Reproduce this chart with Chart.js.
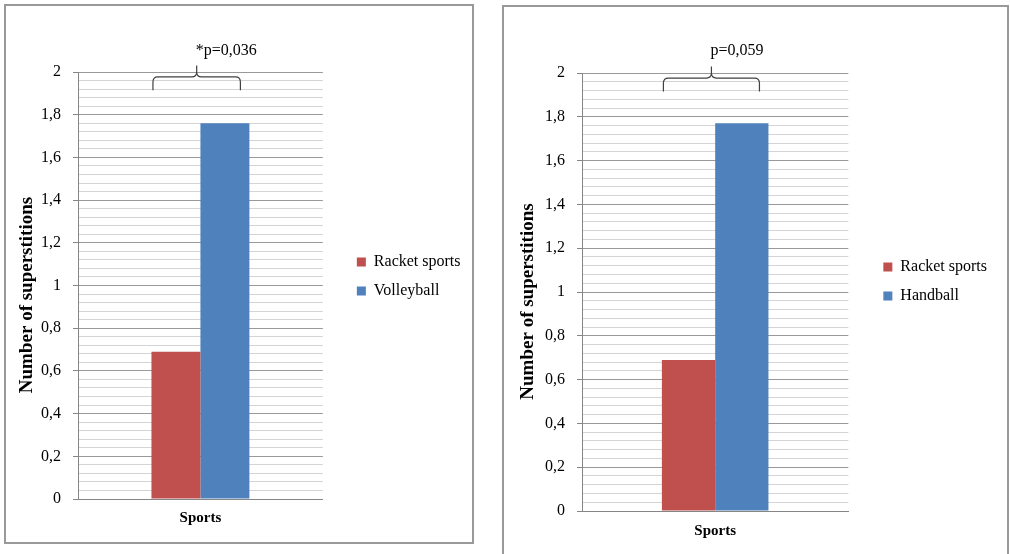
<!DOCTYPE html>
<html>
<head>
<meta charset="utf-8">
<script src="https://cdn.jsdelivr.net/npm/chart.js@4.4.1/dist/chart.umd.min.js"></script>
<style>
  body { margin: 0; background: #fff; }
  .box { position: absolute; border: 2px solid #999; background: #fff; }
  #boxLeft { left: 4px; top: 4px; width: 466px; height: 536px; }
  #boxRight { left: 502px; top: 5px; width: 503px; height: 560px; }
  canvas { display: block; }
</style>
</head>
<body>
<div class="box" id="boxLeft"><canvas id="chartLeft" width="466" height="536"></canvas></div>
<div class="box" id="boxRight"><canvas id="chartRight" width="503" height="547"></canvas></div>
<script>
// values
const categories = ['Sports'];
const leftSeries = ['Racket sports', 'Volleyball'];
const leftRacket = [0.69];
const leftVolleyball = [1.76];
const rightSeries = ['Racket sports', 'Handball'];
const rightRacket = [0.69];
const rightHandball = [1.77];
const yTickLabels = ['0', '0,2', '0,4', '0,6', '0,8', '1', '1,2', '1,4', '1,6', '1,8', '2'];
const pLabels = ['*p=0,036', 'p=0,059'];
// trailing spaces push the rotated title a little below the axis centre, as in Excel
const yTitle = 'Number of superstitions    ';

// brace levels in axis units
const braceLevel = 1.977;
const braceFoot = 1.915;
const braceTip = 2.03;
const pTextLevel = 2.1;

const SERIF = '"Liberation Serif", "Times New Roman", serif';
const RED = '#C0504D';
const BLUE = '#4F81BD';

// curly brace over the two bars + p-value text
const braceAnnotation = {
  id: 'brace',
  afterDatasetsDraw(chart, args, opts) {
    const y = chart.scales.y;
    const a = chart.getDatasetMeta(0).data[0];
    const b = chart.getDatasetMeta(1).data[0];
    const left = a.x - a.width / 2 + 1.5;
    const right = b.x + b.width / 2 - 9;
    const mid = (left + right) / 2;
    const yl = y.getPixelForValue(braceLevel);
    const yf = y.getPixelForValue(braceFoot);
    const yt = y.getPixelForValue(braceTip);
    const r = 5;
    const ctx = chart.ctx;
    ctx.save();
    ctx.strokeStyle = '#404040';
    ctx.lineWidth = 1.2;
    ctx.beginPath();
    ctx.moveTo(left, yf);
    ctx.lineTo(left, yl + r);
    ctx.quadraticCurveTo(left, yl, left + r, yl);
    ctx.lineTo(mid - r, yl);
    ctx.quadraticCurveTo(mid, yl, mid, yl - r);
    ctx.lineTo(mid, yt);
    ctx.moveTo(mid, yl - r);
    ctx.quadraticCurveTo(mid, yl, mid + r, yl);
    ctx.lineTo(right - r, yl);
    ctx.quadraticCurveTo(right, yl, right, yl + r);
    ctx.lineTo(right, yf);
    ctx.stroke();
    ctx.fillStyle = '#000';
    ctx.font = '16px ' + SERIF;
    ctx.textAlign = 'left';
    ctx.textBaseline = 'middle';
    ctx.fillText(opts.text, mid - 1, y.getPixelForValue(pTextLevel));
    ctx.restore();
  }
};

function isMajor(v) {
  return Math.round(v / 0.04) % 5 === 0;
}

function makeChart(id, names, racket, other, p, lay) {
  new Chart(document.getElementById(id), {
    type: 'bar',
    data: {
      labels: categories,
      datasets: [
        { label: names[0], data: racket, backgroundColor: RED, borderWidth: 0 },
        { label: names[1], data: other, backgroundColor: BLUE, borderWidth: 0 }
      ]
    },
    options: {
      responsive: false,
      animation: false,
      devicePixelRatio: 1,
      layout: { padding: { top: 66, left: 0, right: lay.padRight, bottom: lay.padBottom } },
      datasets: { bar: { categoryPercentage: 0.4, barPercentage: 1.0 } },
      scales: {
        x: {
          grid: { display: false, drawTicks: false, tickLength: 0 },
          border: { display: true, color: '#868686' },
          ticks: {
            color: '#000',
            padding: lay.xPad,
            font: { family: SERIF, size: 15, weight: 'bold' }
          }
        },
        y: {
          min: 0,
          max: 2,
          afterFit(scale) { scale.width = lay.yWidth; },
          border: { color: '#868686' },
          grid: {
            color: c => isMajor(c.tick.value) ? '#999999' : '#d4d4d4',
            tickColor: c => isMajor(c.tick.value) ? '#868686' : 'rgba(0,0,0,0)',
            tickLength: 5
          },
          ticks: {
            stepSize: 0.04,
            autoSkip: false,
            padding: 12,
            color: '#000',
            font: { family: SERIF, size: 16 },
            callback: v => isMajor(v) ? yTickLabels[Math.round(v / 0.2)] : ''
          },
          title: {
            display: true,
            text: yTitle,
            color: '#000',
            padding: { top: lay.titlePad, bottom: 0 },
            font: { family: SERIF, size: 19, weight: 'bold' }
          }
        },
        gap: {
          type: 'linear',
          position: 'right',
          grid: { display: false },
          border: { display: false },
          ticks: { display: false },
          afterFit(scale) { scale.width = lay.gap; }
        }
      },
      plugins: {
        legend: {
          position: 'right',
          align: 'start',
          maxWidth: 300,
          title: { display: true, text: '', font: { size: 10 }, padding: { top: lay.legendTop, bottom: 0 } },
          labels: {
            boxWidth: 9,
            boxHeight: 9,
            padding: 13,
            color: '#000',
            font: { family: SERIF, size: 16 }
          }
        },
        tooltip: { enabled: false },
        brace: { text: p }
      }
    },
    plugins: [braceAnnotation]
  });
}

makeChart('chartLeft', leftSeries, leftRacket, leftVolleyball, pLabels[0],
  { padRight: 1.5, padBottom: 5, xPad: 10, yWidth: 72, titlePad: 9.5, gap: 21, legendTop: 157 });
makeChart('chartRight', rightSeries, rightRacket, rightHandball, pLabels[1],
  { padRight: 10, padBottom: 3, xPad: 11, yWidth: 78, titlePad: 12.5, gap: 22, legendTop: 161 });
</script>
</body>
</html>
